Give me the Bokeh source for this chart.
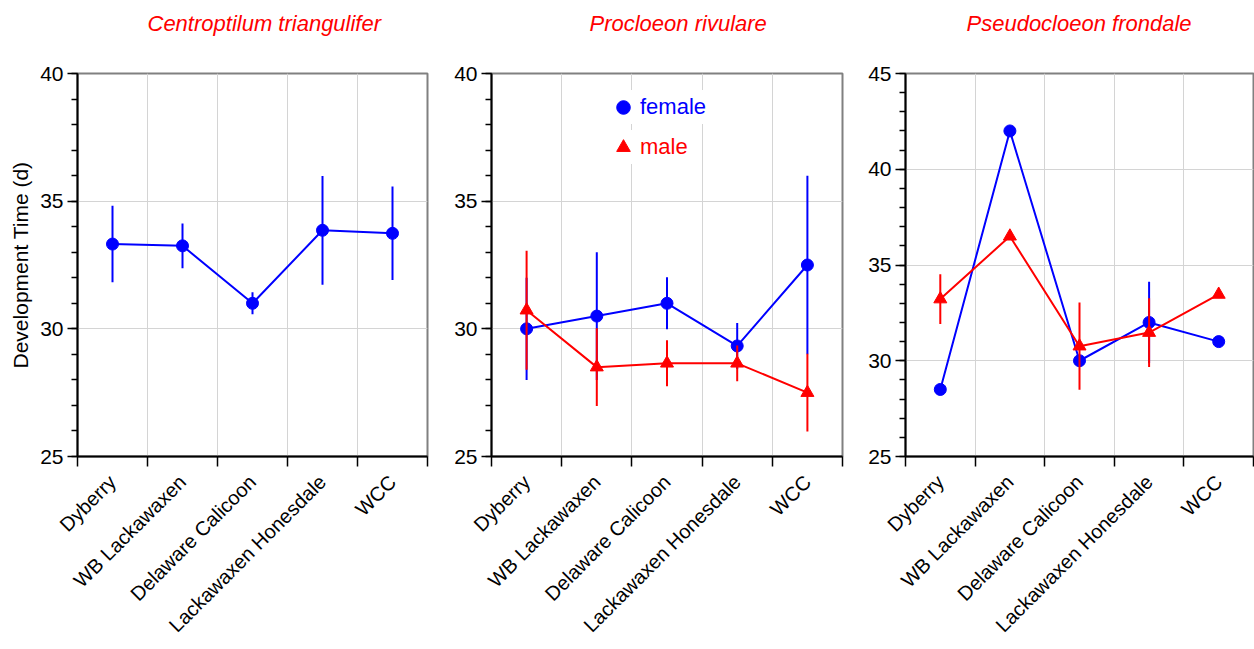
import math
from bokeh.plotting import figure
from bokeh.layouts import row
from bokeh.models import (Range1d, FixedTicker, SingleIntervalTicker, ColumnDataSource,
                          Legend, LegendItem, Title, CustomJSTickFormatter)
from bokeh.embed import file_html
from bokeh.resources import INLINE

# ---- data -------------------------------------------------------------
sites = ["Dyberry", "WB Lackawaxen", "Delaware Calicoon", "Lackawaxen Honesdale", "WCC"]
species = ["Centroptilum triangulifer", "Procloeon rivulare", "Pseudocloeon frondale"]

# development time (days), mean and error half-width per site
ct_female_mean = [33.32, 33.25, 31.0, 33.86, 33.74]
ct_female_err = [1.5, 0.88, 0.43, 2.13, 1.83]

pr_female_mean = [30.0, 30.5, 31.0, 29.33, 32.5]
pr_female_err = [2.0, 2.5, 1.02, 0.9, 3.5]
pr_male_mean = [30.73, 28.5, 28.65, 28.65, 27.5]
pr_male_err = [2.33, 1.52, 0.9, 0.7, 1.52]

pf_female_mean = [28.5, 42.0, 30.0, 32.0, 31.0]
pf_female_err = [0.0, 0.0, 0.0, 2.13, 0.0]
pf_male_mean = [33.22, 36.5, 30.76, 31.47, 33.46]
pf_male_err = [1.3, 0.0, 2.28, 1.8, 0.0]

y_limits = [(25, 40), (25, 40), (25, 45)]

FONT = "Liberation Sans"
BLUE = "#0000ff"
RED = "#ff0000"
GRID = "#d4d4d4"

# panel geometry: (total width, left border, right border, title offset from frame left)
geom = [(445, 77, 18, 70), (405, 46, 8, 98), (404, 55, 1, 61)]


def make_source(means, errs):
    xs = [i + 0.5 for i in range(len(sites))]
    lo = [m - e for m, e in zip(means, errs)]
    hi = [m + e for m, e in zip(means, errs)]
    return ColumnDataSource(dict(x=xs, y=means, lo=lo, hi=hi))


def draw_series(p, means, errs, color, marker, size):
    src = make_source(means, errs)
    p.segment(x0="x", y0="lo", x1="x", y1="hi", source=src,
              line_color=color, line_width=2)
    p.line("x", "y", source=src, line_color=color, line_width=2)
    r = p.scatter("x", "y", source=src, marker=marker, size=size,
                  fill_color=color, line_color=color)
    return r


def make_panel(idx, female, male):
    width, bl, br, toff = geom[idx]
    ylo, yhi = y_limits[idx]
    p = figure(width=width, height=648, output_backend="svg", toolbar_location=None,
               x_range=Range1d(0, len(sites)), y_range=Range1d(ylo, yhi),
               min_border_left=bl, min_border_right=br,
               min_border_top=73, min_border_bottom=192,
               background_fill_color="white", border_fill_color="white",
               outline_line_color="#808080", outline_line_width=2)

    # blank strip between the frame and the species name
    p.add_layout(Title(text=" ", text_font_size="1px", standoff=35), "above")
    p.title = Title(text=species[idx], align="left", offset=toff,
                    text_font=FONT, text_font_size="22px", text_font_style="italic",
                    text_color=RED, standoff=0)

    # x axis: tick marks on the site boundaries, labels at the site centres
    centers = [i + 0.5 for i in range(len(sites))]
    p.xaxis.ticker = FixedTicker(ticks=centers, minor_ticks=list(range(len(sites) + 1)))
    p.xaxis.formatter = CustomJSTickFormatter(args=dict(names=sites),
                                              code="return names[Math.floor(tick)] || '';")
    p.xaxis.major_label_orientation = math.pi / 4
    p.xaxis.major_tick_line_color = None
    p.xaxis.major_tick_out = 0
    p.xaxis.major_tick_in = 0
    p.xaxis.minor_tick_out = 10
    p.xaxis.minor_tick_in = 0
    p.xaxis.minor_tick_line_color = "black"
    p.xaxis.minor_tick_line_width = 1.5
    p.xaxis.major_label_standoff = 12
    p.xaxis.axis_line_width = 2
    p.xaxis.axis_line_color = "black"
    p.xaxis.major_label_text_font = FONT
    p.xaxis.major_label_text_font_size = "20px"
    p.xaxis.major_label_text_color = "black"

    # y axis
    p.yaxis.ticker = SingleIntervalTicker(interval=5, num_minor_ticks=5)
    p.yaxis.major_tick_out = 10
    p.yaxis.major_tick_in = 0
    p.yaxis.minor_tick_out = 6
    p.yaxis.minor_tick_in = 0
    p.yaxis.major_tick_line_color = "black"
    p.yaxis.minor_tick_line_color = "black"
    p.yaxis.major_tick_line_width = 1.5
    p.yaxis.minor_tick_line_width = 1.5
    p.yaxis.axis_line_width = 2
    p.yaxis.axis_line_color = "black"
    p.yaxis.major_label_standoff = 4
    p.yaxis.major_label_text_font = FONT
    p.yaxis.major_label_text_font_size = "21px"
    p.yaxis.major_label_text_color = "black"
    if idx == 0:
        p.yaxis.axis_label = "Development Time (d)"
        p.yaxis.axis_label_text_font = FONT
        p.yaxis.axis_label_text_font_size = "21px"
        p.yaxis.axis_label_text_font_style = "normal"
        p.yaxis.axis_label_text_color = "black"
        p.yaxis.axis_label_standoff = 5

    # grids
    p.xgrid.grid_line_color = None
    p.xgrid.minor_grid_line_color = GRID
    p.xgrid.minor_grid_line_width = 1
    p.ygrid.grid_line_color = GRID
    p.ygrid.grid_line_width = 1

    rf = draw_series(p, female[0], female[1], BLUE, "circle", 12)
    rm = None
    if male is not None:
        rm = draw_series(p, male[0], male[1], RED, "triangle", 13)
    return p, rf, rm


p1, _, _ = make_panel(0, (ct_female_mean, ct_female_err), None)
p2, f2, m2 = make_panel(1, (pr_female_mean, pr_female_err), (pr_male_mean, pr_male_err))
p3, _, _ = make_panel(2, (pf_female_mean, pf_female_err), (pf_male_mean, pf_male_err))

# sex legend in the middle panel, one entry per colour
for label, rend, col, loc in [("female", f2, BLUE, (115, 332)), ("male", m2, RED, (115, 292))]:
    leg = Legend(items=[LegendItem(label=label, renderers=[rend])], location=loc,
                 glyph_width=34, glyph_height=34, padding=3, margin=0,
                 label_standoff=0, border_line_color=None,
                 background_fill_color="white", background_fill_alpha=1.0,
                 label_text_color=col, label_text_font=FONT, label_text_font_size="22px")
    p2.add_layout(leg)

layout = row(p1, p2, p3, spacing=0)
open("out.html", "w").write(file_html(layout, INLINE))
